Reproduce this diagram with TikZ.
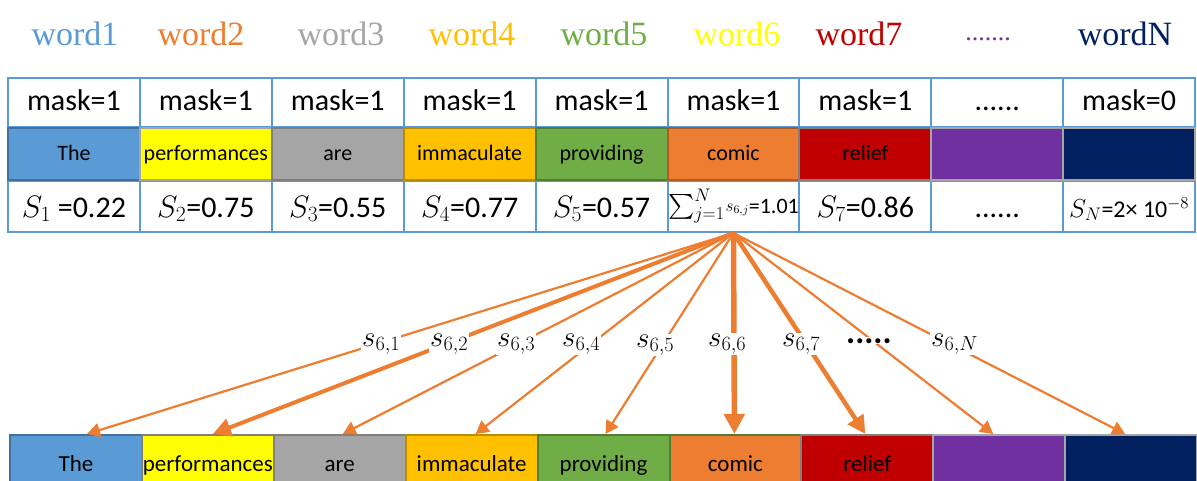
\RequirePackage{fix-cm}
\documentclass[tikz,border=0pt]{standalone}
\usepackage{amsmath}
\usepackage{fontspec}
\setmainfont{Carlito}
\newfontfamily\serifwords{Liberation Serif}
\usetikzlibrary{arrows.meta,calc}
\definecolor{cblue}{HTML}{5B9BD5}
\definecolor{cblueb}{HTML}{41719C}
\definecolor{corange}{HTML}{ED7D31}
\definecolor{corangeb}{HTML}{AE5A21}
\definecolor{cgray}{HTML}{A5A5A5}
\definecolor{cgrayb}{HTML}{7F7F7F}
\definecolor{cgold}{HTML}{FFC000}
\definecolor{cgoldb}{HTML}{BC8C00}
\definecolor{cgreen}{HTML}{70AD47}
\definecolor{cgreenb}{HTML}{507E32}
\definecolor{cyellow}{HTML}{FFFF00}
\definecolor{cred}{HTML}{C00000}
\definecolor{cpurple}{HTML}{7030A0}
\definecolor{cnavy}{HTML}{002060}
\newcommand{\sixdots}{......}
\newcommand{\bigS}[1]{{\fontsize{31}{33}\selectfont$S_{#1}$}}
\begin{document}
\begin{tikzpicture}[x=1pt,y=-1pt,
  topword/.style={anchor=base, inner sep=0pt, font=\serifwords\fontsize{34}{36}\selectfont},
  tabcell/.style={draw=cblue, line width=2pt, minimum width=131.9pt, inner sep=0pt},
  maskcell/.style={tabcell, minimum height=49pt, text height=20pt, text depth=5pt, font=\fontsize{30}{32}\selectfont},
  scorecell/.style={tabcell, minimum height=51pt, text height=24pt, text depth=3pt, font=\fontsize{30}{32}\selectfont},
  wordcell/.style={line width=2pt, minimum width=131.9pt, minimum height=52pt, inner sep=0pt, text height=16pt, text depth=4pt, font=\fontsize{22}{24}\selectfont},
  botcell/.style={line width=2pt, minimum width=131.9pt, minimum height=55pt, inner sep=0pt, text height=20pt, text depth=3pt, font=\fontsize{23}{25}\selectfont},
  slabel/.style={anchor=base west, fill=white, inner sep=1pt, font=\fontsize{29}{31}\selectfont},
  arr/.style={draw=corange, line width=2.2pt, -{Triangle[length=13pt,width=14pt]}},
  thickarr/.style={draw=corange, line width=4.5pt, -{Triangle[length=18pt,width=18pt]}}
]
\useasboundingbox (0,0) rectangle (1197,480);
% top words
\node[topword, text=cblue]   (t1) at (75,45)  {word1};
\node[topword, text=corange] (t2) at (201,45) {word2};
\node[topword, text=cgray]   (t3) at (341,45) {word3};
\node[topword, text=cgold]   (t4) at (472,45) {word4};
\node[topword, text=cgreen]  (t5) at (604,45) {word5};
\node[topword, text=cyellow] (t6) at (737,45) {word6};
\node[topword, text=cred]    (t7) at (859,45) {word7};
\node[topword, text=cpurple, font=\serifwords\fontsize{26}{28}\selectfont] (t8) at (988,40) {.......};
\node[topword, text=cnavy]   (t9) at (1125,45) {wordN};
% mask row
\foreach \i/\t in {1/mask=1,2/mask=1,3/mask=1,4/mask=1,5/mask=1,6/mask=1,7/mask=1,8/\sixdots,9/mask=0}
  \node[maskcell] (m\i) at ({8+(\i-0.5)*131.9},102.5) {\t};
% score row
\node[scorecell] (s1) at ({8+0.5*131.9},206.5) {\bigS{1} =0.22};
\node[scorecell] (s2) at ({8+1.5*131.9},206.5) {\bigS{2}=0.75};
\node[scorecell] (s3) at ({8+2.5*131.9},206.5) {\bigS{3}=0.55};
\node[scorecell] (s4) at ({8+3.5*131.9},206.5) {\bigS{4}=0.77};
\node[scorecell] (s5) at ({8+4.5*131.9},206.5) {\bigS{5}=0.57};
\node[scorecell] (s6) at ({8+5.5*131.9},206.5) {\makebox[126pt][c]{\raisebox{4pt}{{\fontsize{26}{28}\selectfont$\sum\nolimits_{j=1}^{N}$}\hspace{1pt}\raisebox{2pt}{\fontsize{17}{19}\selectfont$s_{6,j}$}{\fontsize{22}{24}\selectfont=1.01}}}};
\node[scorecell] (s7) at ({8+6.5*131.9},206.5) {\bigS{7}=0.86};
\node[scorecell] (s8) at ({8+7.5*131.9},206.5) {\sixdots};
\node[scorecell] (s9) at ({8+8.5*131.9},206.5) {\makebox[126pt][c]{{\fontsize{26}{28}\selectfont$S_N$}{\fontsize{24}{26}\selectfont=2\texttimes{} 10$^{-8}$}}};
% word row
\foreach \i/\t/\fc/\bc in {1/The/cblue/cblueb,2/performances/cyellow/cgray,3/are/cgray/cgrayb,4/immaculate/cgold/cgoldb,5/providing/cgreen/cgreenb,6/comic/corange/corangeb,7/relief/cred/cgrayb,8/{}/cpurple/cgray,9/{}/cnavy/cgray}
  \node[wordcell, fill=\fc, draw=\bc] (w\i) at ({8+(\i-0.5)*131.9},154) {\t};
% bottom row
\foreach \i/\t/\fc/\bc in {1/The/cblue/cblueb,2/performances/cyellow/cgrayb,3/are/cgray/cgrayb,4/immaculate/cgold/cgoldb,5/providing/cgreen/cgreenb,6/comic/corange/cgreenb,7/relief/cred/cgrayb,8/{}/cpurple/cgray,9/{}/cnavy/cgray}
  \node[botcell, fill=\fc, draw=\bc] (b\i) at ({10+(\i-0.5)*131.9},462.5) {\t};
% arrows
\draw[arr] (s6.south) -- ([xshift=11pt]b1.north);
\draw[thickarr, line width=4pt] (s6.south) -- ([xshift=5pt]b2.north);
\draw[arr] (s6.south) -- ([xshift=3pt]b3.north);
\draw[arr] (s6.south) -- ([xshift=4pt]b4.north);
\draw[arr] (s6.south) -- ([xshift=2pt]b5.north);
\draw[thickarr, line width=5.5pt, -{Triangle[length=20pt,width=20pt]}] (s6.south) -- ([xshift=-1pt]b6.north);
\draw[thickarr] (s6.south) -- ([xshift=-2pt]b7.north);
\draw[arr] (s6.south) -- ([xshift=-6pt]b8.north);
\draw[arr] (s6.south) -- ([xshift=-6pt]b9.north);
% labels
\node[slabel] (l1) at (361,346) {$s_{6,1}$};
\node[slabel] (l2) at (429,346) {$s_{6,2}$};
\node[slabel] (l3) at (496,346) {$s_{6,3}$};
\node[slabel] (l4) at (561,346) {$s_{6,4}$};
\node[slabel] (l5) at (635,347) {$s_{6,5}$};
\node[slabel] (l6) at (707,346) {$s_{6,6}$};
\node[slabel] (l7) at (781,346) {$s_{6,7}$};
\node[slabel, font=\bfseries\fontsize{34}{36}\selectfont] (l8) at (845,343) {.....};
\node[slabel] (l9) at (930,346) {$s_{6,N}$};
\end{tikzpicture}
\end{document}
